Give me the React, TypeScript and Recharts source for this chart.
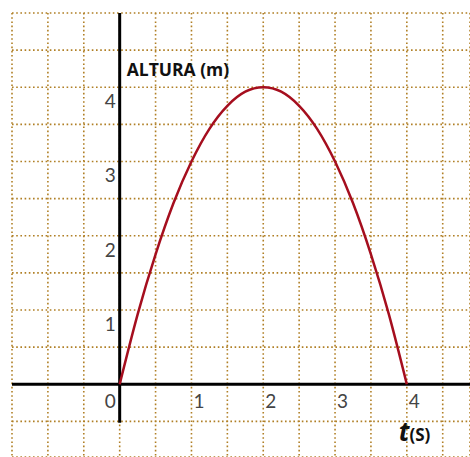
import React from "react";
import {
  LineChart,
  Line,
  XAxis,
  YAxis,
  CartesianGrid,
  ReferenceLine,
  ReferenceDot,
} from "recharts";

// tiempo (s) y altura (m)
const tiempo = [0, 0.25, 0.5, 0.75, 1, 1.25, 1.5, 1.75, 2, 2.25, 2.5, 2.75, 3, 3.25, 3.5, 3.75, 4];
const altura = [0, 0.94, 1.75, 2.44, 3, 3.44, 3.75, 3.94, 4, 3.94, 3.75, 3.44, 3, 2.44, 1.75, 0.94, 0];

// grid lines every half unit
const gridX = [-1.5, -1, -0.5, 0, 0.5, 1, 1.5, 2, 2.5, 3, 3.5, 4, 4.5];
const gridY = [-0.5, 0, 0.5, 1, 1.5, 2, 2.5, 3, 3.5, 4, 4.5, 5];

const xLabels = [0, 1, 2, 3, 4];
const yLabels = [1, 2, 3, 4];

const data = tiempo.map((t, i) => ({ t, h: altura[i] }));

const tickFont = { fontFamily: "Lato, 'Noto Sans', sans-serif", fontSize: 19, fill: "#444" };

export default function App() {
  return (
    <div style={{ position: "absolute", left: 0, top: 0, background: "#fff" }}>
      <LineChart
        width={470}
        height={457}
        data={data}
        margin={{ top: 13, right: 0, bottom: 0, left: 12 }}
      >
        <XAxis
          type="number"
          dataKey="t"
          domain={[-1.5, 4.88]}
          ticks={gridX}
          allowDataOverflow
          hide
        />
        <YAxis
          type="number"
          domain={[-0.98, 5]}
          ticks={gridY}
          allowDataOverflow
          hide
        />
        <CartesianGrid stroke="#b07f25" strokeDasharray="1.6 2.6" strokeWidth={1.6} />
        <ReferenceLine y={0} stroke="#000" strokeWidth={3} />
        <ReferenceLine
          segment={[
            { x: 0, y: 5 },
            { x: 0, y: -0.52 },
          ]}
          stroke="#000"
          strokeWidth={3}
        />
        <Line
          type="natural"
          dataKey="h"
          stroke="#a50e1e"
          strokeWidth={2.5}
          dot={false}
          isAnimationActive={false}
        />
        {xLabels.map((v) => (
          <ReferenceDot
            key={"x" + v}
            x={v}
            y={0}
            r={0}
            fill="none"
            stroke="none"
            label={(p: any) => (
              <text
                x={v === 0 ? p.viewBox.x - 4 : p.viewBox.x + 2}
                y={p.viewBox.y + 24}
                textAnchor={v === 0 ? "end" : "start"}
                {...tickFont}
              >
                {v}
              </text>
            )}
          />
        ))}
        {yLabels.map((v) => (
          <ReferenceDot
            key={"y" + v}
            x={0}
            y={v}
            r={0}
            fill="none"
            stroke="none"
            label={(p: any) => (
              <text
                x={p.viewBox.x - 4}
                y={p.viewBox.y + 21}
                textAnchor="end"
                {...tickFont}
              >
                {v}
              </text>
            )}
          />
        ))}
        <ReferenceDot
          x={0}
          y={4}
          r={0}
          fill="none"
          stroke="none"
          label={(p: any) => (
            <text
              x={p.viewBox.x + 7}
              y={p.viewBox.y - 11}
              fontFamily="'Open Sans', Lato, sans-serif"
              fontWeight="bold"
              fontSize={17.5}
              fill="#111"
            >
              ALTURA (m)
            </text>
          )}
        />
        <ReferenceDot
          x={4}
          y={0}
          r={0}
          fill="none"
          stroke="none"
          label={(p: any) => (
            <text
              x={p.viewBox.x - 8}
              y={p.viewBox.y + 57}
              fontFamily="'Open Sans', Lato, sans-serif"
              fontWeight="bold"
              fill="#111"
            >
              <tspan fontSize={26} fontStyle="italic">t</tspan>
              <tspan fontSize={17}>(S)</tspan>
            </text>
          )}
        />
      </LineChart>
    </div>
  );
}
